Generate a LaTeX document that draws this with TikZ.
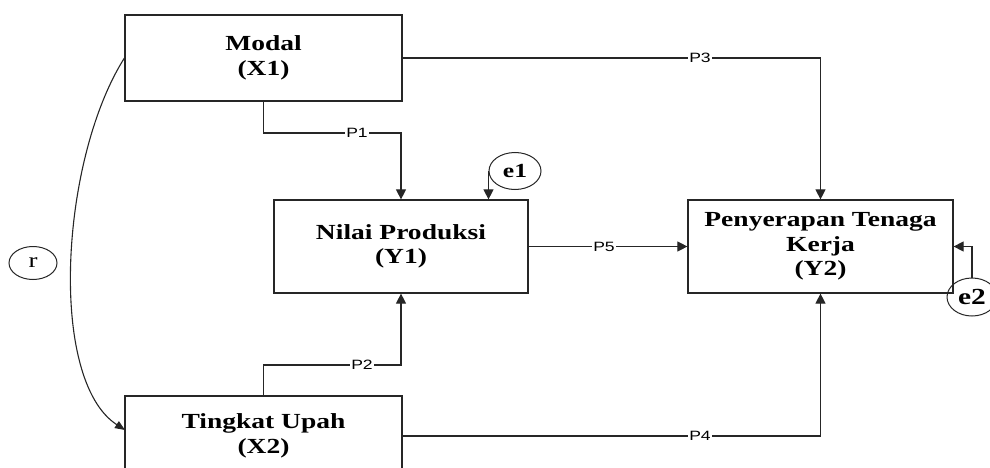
\documentclass[tikz,border=0pt]{standalone}
\usepackage{fontspec}
\setmainfont{Liberation Serif}[FakeStretch=1.28]
\newfontfamily\lsans{Liberation Sans}[FakeStretch=1.3]
\usetikzlibrary{shapes.geometric,arrows.meta}
\begin{document}
\begin{tikzpicture}[x=1pt,y=-1pt,
  varbox/.style={draw=black!85,line width=1.2pt,inner sep=0pt,align=center,
    font=\fontsize{21.5}{24.5}\selectfont\bfseries},
  errell/.style={draw=black!85,line width=1pt,ellipse,inner sep=0pt},
  conn/.style={draw=black!85,line width=1.1pt},
  arr/.style={conn,-{Triangle[length=10pt,width=10pt]}},
  plabel/.style={fill=white,inner sep=1pt,font=\lsans\fontsize{13.5}{14}\selectfont}]
\useasboundingbox (0,0) rectangle (990,468);
\clip (0,0) rectangle (990,468);
\node[varbox,minimum width=277pt,minimum height=86pt] (x1) at (263.5,58) {Modal\\(X1)};
\node[varbox,minimum width=254pt,minimum height=93pt] (y1) at (401,246.5) {Nilai Produksi\\(Y1)};
\node[varbox,minimum width=265pt,minimum height=93pt] (y2) at (820.5,246.5) {Penyerapan Tenaga\\Kerja\\(Y2)};
\node[varbox,minimum width=277pt,minimum height=80pt] (x2) at (263.5,436) {Tingkat Upah\\(X2)};
\node[errell,minimum width=52pt,minimum height=37pt,font=\fontsize{20}{22}\selectfont\bfseries] (e1) at (515,171) {e1};
\node[errell,minimum width=50pt,minimum height=38pt,font=\fontsize{23}{25}\selectfont\bfseries] (e2) at (972,297) {e2};
\node[errell,minimum width=48pt,minimum height=33pt,font=\fontsize{21}{24}\selectfont] (r) at (33,263) {r};
% P1
\coordinate (p1a) at (263.5,133);
\coordinate (p1b) at (401,133);
\draw[arr] (x1.south) -- (p1a) -- (p1b) -- (y1.north);
\node[plabel] (lp1) at (357,133) {P1};
% P2
\coordinate (p2a) at (263.5,365);
\coordinate (p2b) at (401,365);
\draw[arr] (x2.north) -- (p2a) -- (p2b) -- (y1.south);
\node[plabel] (lp2) at (362,365) {P2};
% P3
\draw[arr] (x1.east) -| (y2.north);
\node[plabel] (lp3) at (700,58) {P3};
% P4
\draw[arr] (x2.east) -| (y2.south);
\node[plabel] (lp4) at (700,436) {P4};
% P5
\draw[arr] (y1.east) -- (y2.west);
\node[plabel] (lp5) at (604,246.5) {P5};
% errors
\draw[arr] (e1.west) -- (e1.west |- y1.north);
\draw[arr] (e2.north) |- (y2.east);
% correlation
\draw[conn,-{Triangle[length=10pt,width=8pt]}] (x1.west) .. controls (60,160) and (48,380) .. (125,430);
\end{tikzpicture}
\end{document}
